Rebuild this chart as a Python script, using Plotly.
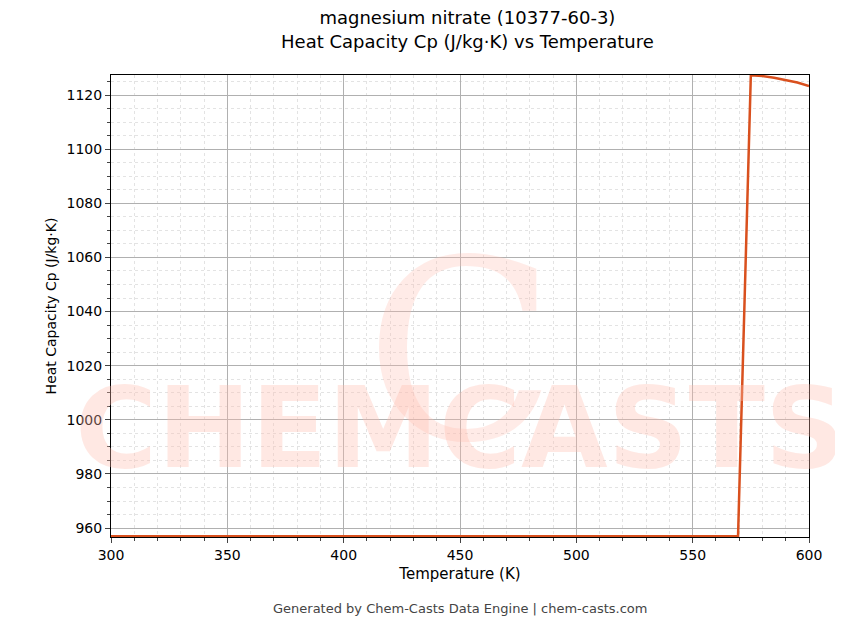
import plotly.graph_objects as go

# temperature (K) and heat capacity (J/kg·K)
temps = [300, 350, 400, 450, 500, 550, 569.5, 575, 580, 585, 590, 595, 600]
cp = [957, 957, 957, 957, 957, 957, 957, 1127.3, 1127.0, 1126.4, 1125.6, 1124.6, 1123.3]

x_ticks = [300, 350, 400, 450, 500, 550, 600]
y_ticks = [960, 980, 1000, 1020, 1040, 1060, 1080, 1100, 1120]

fig = go.Figure()
fig.add_trace(go.Scatter(x=temps, y=cp, mode="lines",
                         line=dict(color="#d9501e", width=2.5)))

# watermark
fig.add_annotation(text="<b>CHEMCASTS</b>", xref="paper", yref="paper", x=0.5, y=0.09,
                   showarrow=False, font=dict(size=112, color="rgba(255,190,175,0.35)",
                                              family="DejaVu Sans"))
fig.add_annotation(text="C", xref="paper", yref="paper", x=0.5, y=0.72,
                   showarrow=False, font=dict(size=250, color="rgba(255,190,175,0.3)",
                                              family="DejaVu Serif"))

fig.add_annotation(text="Generated by Chem-Casts Data Engine | chem-casts.com",
                   xref="paper", yref="paper", x=0.5, y=-0.175, showarrow=False,
                   font=dict(size=13, color="#444"))

axis_common = dict(showline=True, linecolor="black", mirror=True, ticks="outside",
                   gridcolor="#b0b0b0", gridwidth=0.8, zeroline=False,
                   tickfont=dict(size=14, color="black"),
                   minor=dict(ticks="outside", ticklen=3, showgrid=True,
                              gridcolor="#e3e3e3", griddash="dot", gridwidth=0.5))

fig.update_xaxes(range=[300, 600], tickvals=x_ticks, title="Temperature (K)",
                 title_font=dict(size=15), title_standoff=6, minor_dtick=10, **axis_common)
fig.update_yaxes(range=[956.7, 1127.4], tickvals=y_ticks,
                 title="Heat Capacity Cp (J/kg·K)", title_font=dict(size=14),
                 title_standoff=6, minor_dtick=5, **axis_common)

fig.update_layout(
    width=843, height=644,
    title=dict(text="magnesium nitrate (10377-60-3)<br>Heat Capacity Cp (J/kg·K) vs Temperature",
               x=0.545, xanchor="center", y=0.975, yanchor="top",
               font=dict(size=18, color="black")),
    font=dict(family="DejaVu Sans", color="black"),
    plot_bgcolor="white", paper_bgcolor="white",
    margin=dict(l=103, r=42, t=67, b=115),
    showlegend=False,
)

fig.write_html("out.html")
